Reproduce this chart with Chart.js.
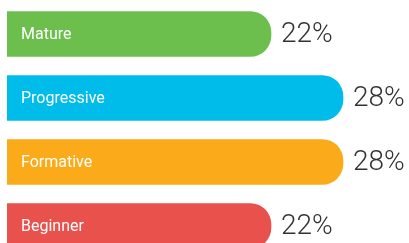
<!DOCTYPE html>
<html><head><meta charset="utf-8">
<script src="https://cdn.jsdelivr.net/npm/chart.js@4"></script>
<style>html,body{margin:0;padding:0;background:#fff;overflow:hidden;}#wrap{width:409px;height:258px;}</style>
</head><body><div id="wrap"><canvas id="c" width="409" height="258"></canvas></div>
<script>
const categories = ["Mature", "Progressive", "Formative", "Beginner"];
const values = [22, 28, 28, 22];
const colors = ["#6CBF4D", "#00BCEB", "#FBAB19", "#E8514C"];

const labelPlugin = {
  id: 'labels',
  afterDatasetsDraw(chart) {
    const ctx = chart.ctx;
    const meta = chart.getDatasetMeta(0);
    ctx.save();
    meta.data.forEach((bar, i) => {
      ctx.textBaseline = 'middle';
      ctx.textAlign = 'left';
      ctx.fillStyle = '#ffffff';
      ctx.font = '400 16px Roboto';
      ctx.fillText(categories[i], bar.base + 14, bar.y + 1);
      ctx.fillStyle = '#333333';
      ctx.font = '300 28px Roboto';
      ctx.fillText(values[i] + '%', bar.x + 10, bar.y + 1);
    });
    ctx.restore();
  }
};

new Chart(document.getElementById('c'), {
  type: 'bar',
  data: { labels: categories, datasets: [{ data: values, backgroundColor: colors, borderRadius: 21, borderSkipped: 'start', barThickness: 45 }] },
  options: {
    indexAxis: 'y', responsive: false, animation: false,
    layout: { padding: { left: 7, right: 0, top: 2, bottom: 0 } },
    plugins: { legend: { display: false }, tooltip: { enabled: false } },
    scales: {
      x: { display: false, min: 0, max: 33.5 },
      y: { display: false }
    }
  },
  plugins: [labelPlugin]
});
</script></body></html>
